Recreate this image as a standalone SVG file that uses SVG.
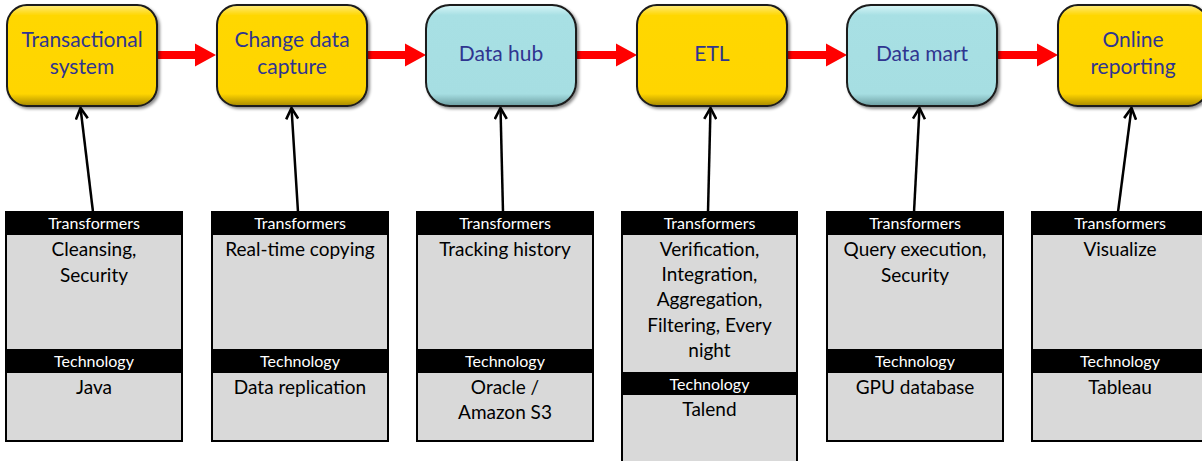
<svg xmlns="http://www.w3.org/2000/svg" width="1202" height="461" viewBox="0 0 1202 461">
<defs>
<linearGradient id="gy" x1="0" y1="0" x2="0" y2="1">
<stop offset="0" stop-color="#FFEB80"/>
<stop offset="0.1" stop-color="#FFD700"/>
<stop offset="0.88" stop-color="#FFD500"/>
<stop offset="1" stop-color="#A88A00"/>
</linearGradient>
<linearGradient id="gc" x1="0" y1="0" x2="0" y2="1">
<stop offset="0" stop-color="#D8F6F8"/>
<stop offset="0.1" stop-color="#A8E0E4"/>
<stop offset="0.88" stop-color="#A6DEE2"/>
<stop offset="1" stop-color="#6C9EA2"/>
</linearGradient>
<filter id="sh" x="-10%" y="-10%" width="120%" height="130%">
<feDropShadow dx="2" dy="2" stdDeviation="1.5" flood-color="#000" flood-opacity="0.45"/>
</filter>
<marker id="va" viewBox="0 0 14 14" refX="12" refY="7" markerWidth="14" markerHeight="14" markerUnits="userSpaceOnUse" orient="auto">
<path d="M1,1 L12,7 L1,13" fill="none" stroke="#000" stroke-width="2.6"/>
</marker>
</defs>
<style>
.ny{fill:url(#gy);stroke:#1a1a1a;stroke-width:2;filter:url(#sh)}
.nc{fill:url(#gc);stroke:#1a1a1a;stroke-width:2;filter:url(#sh)}
.nt{font-family:Lato,"Open Sans",sans-serif;font-size:21px;fill:#2F3590;text-anchor:middle}
.box{fill:#D9D9D9;stroke:#000;stroke-width:2}
.hd{fill:#000}
.ht{font-family:Lato,"Open Sans",sans-serif;font-size:16px;fill:#fff;text-anchor:middle}
.bt{font-family:Lato,"Open Sans",sans-serif;font-size:19px;fill:#000;text-anchor:middle}
.red{fill:#FF0000}
.con{stroke:#000;stroke-width:2.5;fill:none;marker-end:url(#va)}
</style>

<g id="connectors">
<path class="red" d="M157,51 H195 V43.5 L216,55 L195,66.5 V59 H157 Z"/>
<path class="red" d="M367,51 H405 V43.5 L426,55 L405,66.5 V59 H367 Z"/>
<path class="red" d="M577,51 H616 V43.5 L637,55 L616,66.5 V59 H577 Z"/>
<path class="red" d="M787,51 H826 V43.5 L847,55 L826,66.5 V59 H787 Z"/>
<path class="red" d="M997,51 H1037 V43.5 L1058,55 L1037,66.5 V59 H997 Z"/>
<line class="con" x1="93" y1="212" x2="80.5" y2="108"/>
<line class="con" x1="298" y1="212" x2="291.5" y2="108"/>
<line class="con" x1="503" y1="212" x2="500.5" y2="108"/>
<line class="con" x1="708" y1="212" x2="710.5" y2="108"/>
<line class="con" x1="914" y1="212" x2="919.5" y2="108"/>
<line class="con" x1="1118" y1="212" x2="1131.5" y2="108"/>
</g>

<g id="node-transactional">
<rect class="ny" x="7" y="5" width="150" height="101" rx="20"/>
<text class="nt" x="82" y="47">Transactional</text>
<text class="nt" x="82" y="74">system</text>
</g>
<g id="node-cdc">
<rect class="ny" x="217" y="5" width="150" height="101" rx="20"/>
<text class="nt" x="292" y="47">Change data</text>
<text class="nt" x="292" y="74">capture</text>
</g>
<g id="node-datahub">
<rect class="nc" x="426" y="5" width="150" height="101" rx="24"/>
<text class="nt" x="501" y="61">Data hub</text>
</g>
<g id="node-etl">
<rect class="ny" x="637" y="5" width="150" height="101" rx="20"/>
<text class="nt" x="712" y="61">ETL</text>
</g>
<g id="node-datamart">
<rect class="nc" x="847" y="5" width="150" height="101" rx="24"/>
<text class="nt" x="922" y="61">Data mart</text>
</g>
<g id="node-online">
<rect class="ny" x="1058" y="5" width="150" height="101" rx="20"/>
<text class="nt" x="1133" y="47">Online</text>
<text class="nt" x="1133" y="74">reporting</text>
</g>

<g id="box-1">
<rect class="box" x="6" y="212" width="176" height="229"/>
<rect class="hd" x="6" y="212" width="176" height="23"/>
<rect class="hd" x="6" y="349" width="176" height="24"/>
<text class="ht" x="94" y="229">Transformers</text>
<text class="bt" x="94" y="256">Cleansing,</text>
<text class="bt" x="94" y="282">Security</text>
<text class="ht" x="94" y="367">Technology</text>
<text class="bt" x="94" y="394">Java</text>
</g>
<g id="box-2">
<rect class="box" x="212" y="212" width="176" height="229"/>
<rect class="hd" x="212" y="212" width="176" height="23"/>
<rect class="hd" x="212" y="349" width="176" height="24"/>
<text class="ht" x="300" y="229">Transformers</text>
<text class="bt" x="300" y="256">Real-time copying</text>
<text class="ht" x="300" y="367">Technology</text>
<text class="bt" x="300" y="394">Data replication</text>
</g>
<g id="box-3">
<rect class="box" x="417" y="212" width="176" height="229"/>
<rect class="hd" x="417" y="212" width="176" height="23"/>
<rect class="hd" x="417" y="349" width="176" height="24"/>
<text class="ht" x="505" y="229">Transformers</text>
<text class="bt" x="505" y="256">Tracking history</text>
<text class="ht" x="505" y="367">Technology</text>
<text class="bt" x="505" y="394">Oracle /</text>
<text class="bt" x="505" y="419">Amazon S3</text>
</g>
<g id="box-4">
<rect class="box" x="622" y="212" width="175" height="260"/>
<rect class="hd" x="622" y="212" width="175" height="23"/>
<rect class="hd" x="622" y="372" width="175" height="23"/>
<text class="ht" x="709.5" y="229">Transformers</text>
<text class="bt" x="709.5" y="256">Verification,</text>
<text class="bt" x="709.5" y="281">Integration,</text>
<text class="bt" x="709.5" y="306">Aggregation,</text>
<text class="bt" x="709.5" y="332">Filtering, Every</text>
<text class="bt" x="709.5" y="357">night</text>
<text class="ht" x="709.5" y="390">Technology</text>
<text class="bt" x="709.5" y="416">Talend</text>
</g>
<g id="box-5">
<rect class="box" x="827" y="212" width="176" height="229"/>
<rect class="hd" x="827" y="212" width="176" height="23"/>
<rect class="hd" x="827" y="349" width="176" height="24"/>
<text class="ht" x="915" y="229">Transformers</text>
<text class="bt" x="915" y="256">Query execution,</text>
<text class="bt" x="915" y="282">Security</text>
<text class="ht" x="915" y="367">Technology</text>
<text class="bt" x="915" y="394">GPU database</text>
</g>
<g id="box-6">
<rect class="box" x="1032" y="212" width="176" height="229"/>
<rect class="hd" x="1032" y="212" width="176" height="23"/>
<rect class="hd" x="1032" y="349" width="176" height="24"/>
<text class="ht" x="1120" y="229">Transformers</text>
<text class="bt" x="1120" y="256">Visualize</text>
<text class="ht" x="1120" y="367">Technology</text>
<text class="bt" x="1120" y="394">Tableau</text>
</g>
</svg>
